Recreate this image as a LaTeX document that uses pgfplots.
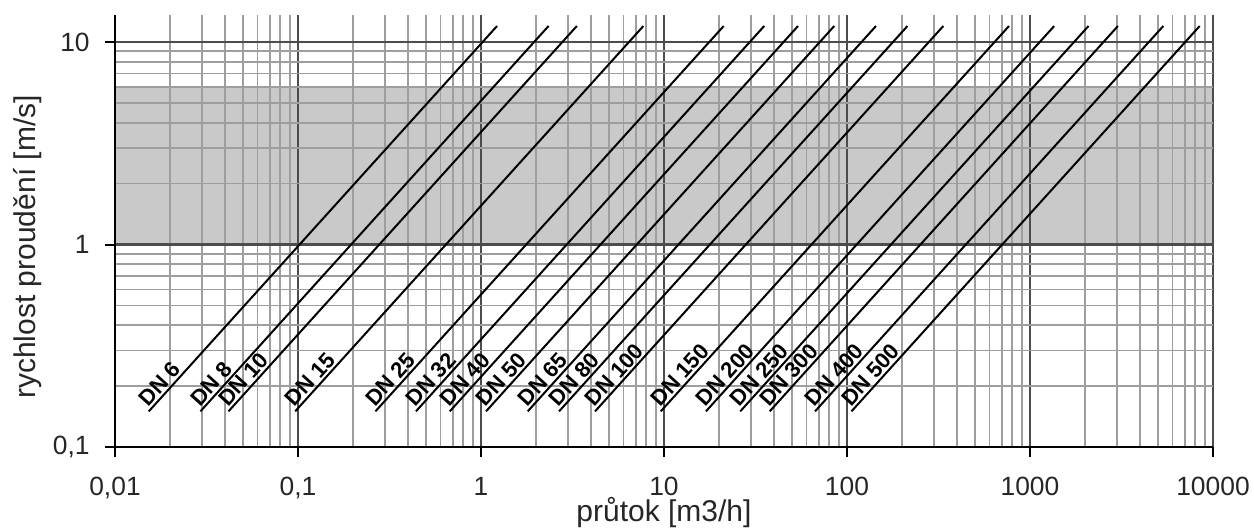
\documentclass[border=0pt]{standalone}
\usepackage{fontspec}
\setmainfont{Liberation Sans}
\usepackage{pgfplots}
\pgfplotsset{compat=1.18}
\tikzset{dnlab/.style={pos=0, sloped, anchor=south west, inner sep=0.8pt, font=\fontsize{11}{12}\bfseries\selectfont}}
\begin{document}
\begin{tikzpicture}
\begin{axis}[
  at={(0,0)}, anchor=south west,
  scale only axis, width=549pt, height=216pt,
  xmode=log, ymode=log,
  xmin=0.01, xmax=10000, ymin=0.1, ymax=13.6,
  axis x line*=bottom, axis y line*=left,
  axis line style={black, line width=1pt},
  tick align=outside,
  major tick length=5pt, minor tick length=0pt,
  tick style={black, line width=1pt},
  xtick={0.01,0.1,1,10,100,1000,10000},
  xticklabels={{0,01},{0,1},1,10,100,1000,10000},
  ytick={0.1,1,10},
  yticklabels={{0,1},1,10},
  minor xtick={0.02,0.03,0.04,0.05,0.06,0.07,0.08,0.09,
               0.2,0.3,0.4,0.5,0.6,0.7,0.8,0.9,
               2,3,4,5,6,7,8,9,
               20,30,40,50,60,70,80,90,
               200,300,400,500,600,700,800,900,
               2000,3000,4000,5000,6000,7000,8000,9000},
  minor ytick={0.2,0.3,0.4,0.5,0.6,0.7,0.8,0.9,2,3,4,5,6,7,8,9},
  grid=both,
  major grid style={draw=black!70, line width=1.4pt},
  minor grid style={draw=black!38, line width=0.9pt},
  ticklabel style={font=\fontsize{13.2}{15}\selectfont, text=black!85},
  xticklabel style={anchor=north, inner sep=0pt, yshift=-10pt},
  yticklabel style={anchor=east, inner sep=0pt, xshift=-7.5pt},
  xlabel={průtok [m3/h]},
  ylabel={rychlost proudění [m/s]},
  label style={font=\fontsize{15}{17}\selectfont, text=black!85},
  xlabel style={at={(axis description cs:0.5,-0.152)}, anchor=center},
  ylabel style={at={(axis description cs:-0.0792,0.463)}, anchor=center},
  set layers,
]
\addplot[fill=black!21, draw=none, on layer=axis background] coordinates {(0.01,1) (10000,1) (10000,6) (0.01,6)} -- cycle;
\addplot[black, line width=1pt] coordinates {(0.0153,0.15) (1.224,12)} node[dnlab] {DN 6};
\addplot[black, line width=1pt] coordinates {(0.0293,0.15) (2.34,12)} node[dnlab] {DN 8};
\addplot[black, line width=1pt] coordinates {(0.0417,0.15) (3.34,12)} node[dnlab] {DN 10};
\addplot[black, line width=1pt] coordinates {(0.0965,0.15) (7.72,12)} node[dnlab] {DN 15};
\addplot[black, line width=1pt] coordinates {(0.265,0.15) (21.2,12)} node[dnlab] {DN 25};
\addplot[black, line width=1pt] coordinates {(0.441,0.15) (35.3,12)} node[dnlab] {DN 32};
\addplot[black, line width=1pt] coordinates {(0.675,0.15) (54.0,12)} node[dnlab] {DN 40};
\addplot[black, line width=1pt] coordinates {(1.065,0.15) (85.2,12)} node[dnlab] {DN 50};
\addplot[black, line width=1pt] coordinates {(1.80,0.15) (144,12)} node[dnlab] {DN 65};
\addplot[black, line width=1pt] coordinates {(2.67,0.15) (214,12)} node[dnlab] {DN 80};
\addplot[black, line width=1pt] coordinates {(4.20,0.15) (336,12)} node[dnlab] {DN 100};
\addplot[black, line width=1pt] coordinates {(9.60,0.15) (768,12)} node[dnlab] {DN 150};
\addplot[black, line width=1pt] coordinates {(16.95,0.15) (1356,12)} node[dnlab] {DN 200};
\addplot[black, line width=1pt] coordinates {(26.1,0.15) (2088,12)} node[dnlab] {DN 250};
\addplot[black, line width=1pt] coordinates {(37.8,0.15) (3024,12)} node[dnlab] {DN 300};
\addplot[black, line width=1pt] coordinates {(66.9,0.15) (5352,12)} node[dnlab] {DN 400};
\addplot[black, line width=1pt] coordinates {(105.8,0.15) (8460,12)} node[dnlab] {DN 500};
\end{axis}
\pgfresetboundingbox
\useasboundingbox (-57.5pt,-40pt) rectangle (569.5pt,223.5pt);
\end{tikzpicture}
\end{document}
